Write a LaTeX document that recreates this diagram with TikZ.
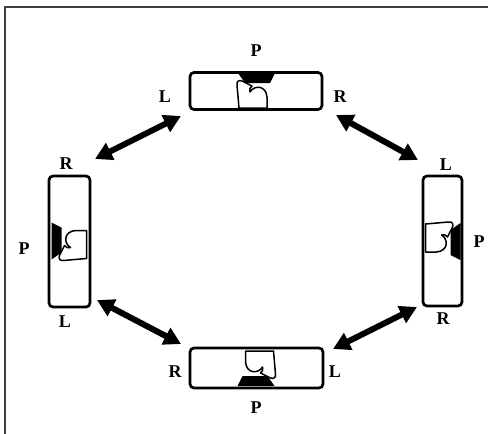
\documentclass[tikz,border=0pt]{standalone}
\usepackage{fontspec}
\setmainfont{Liberation Serif}
\usetikzlibrary{arrows.meta}

\begin{document}
\begin{tikzpicture}[x=1pt,y=1pt,yscale=-1,xscale=1,
  box/.style={draw,line width=2.7pt,rounded corners=4pt,inner sep=0pt},
  trap/.style={fill=black},
  heart/.style={draw,fill=white,line width=1.5pt,line join=round},
  dbl/.style={line width=6pt,{Triangle[length=17pt,width=18pt]}-{Triangle[length=17pt,width=18pt]}},
  lbl/.style={inner sep=0pt,font=\fontsize{18}{21}\selectfont\bfseries}]
\useasboundingbox (0,0) rectangle (488,434);

%Frame
\draw[line width=1.8pt,black!75] (5,434) -- (5,7) -- (488,7);

%Boxes
\node[box,minimum width=132pt,minimum height=37pt] (top) at (256,91) {};
\node[box,minimum width=41pt,minimum height=131pt] (left) at (69.5,241.5) {};
\node[box,minimum width=39pt,minimum height=130pt] (right) at (442.5,241) {};
\node[box,minimum width=133pt,minimum height=40pt] (bottom) at (256.5,368) {};

%Pad and figure in each box
\foreach \bx/\ang in {top/0,left/-90,right/90,bottom/180}{
  \begin{scope}[shift={(\bx.center)},rotate=\ang]
    \fill[trap] (-18,-18) -- (19,-18) -- (14,-8) -- (-11,-8) -- cycle;
    \draw[heart] (-17,17) -- (-19,-6) .. controls (-19.5,-10) and (-17,-11) .. (-14,-10)
      -- (-4,-5) .. controls (-6,-4) and (-7,-1) .. (-6,1)
      .. controls (-2,-6) and (10,-6) .. (11,6) -- (11,17) -- cycle;
  \end{scope}
}

%Arrow ends
\coordinate (tl1) at (95,159);
\coordinate (tl2) at (181,116);
\coordinate (tr1) at (336,115);
\coordinate (tr2) at (418,160);
\coordinate (bl1) at (97,300);
\coordinate (bl2) at (181,344);
\coordinate (br1) at (333,349);
\coordinate (br2) at (417,307);

%Arrows
\draw[dbl] (tl1) -- (tl2);
\draw[dbl] (tr1) -- (tr2);
\draw[dbl] (bl1) -- (bl2);
\draw[dbl] (br1) -- (br2);

% Text Node
\node[lbl] (tP) at (256,51) {P};
\node[lbl] (tL) at (165,97) {L};
\node[lbl] (tR) at (340,97) {R};
% Text Node
\node[lbl] (lR) at (66,164) {R};
\node[lbl] (lP) at (24,249) {P};
\node[lbl] (lL) at (65,322) {L};
% Text Node
\node[lbl] (rL) at (446,165) {L};
\node[lbl] (rP) at (479,242) {P};
\node[lbl] (rR) at (443,319) {R};
% Text Node
\node[lbl] (bR) at (175,372) {R};
\node[lbl] (bL) at (335,372) {L};
\node[lbl] (bP) at (256,408) {P};

\end{tikzpicture}
\end{document}
